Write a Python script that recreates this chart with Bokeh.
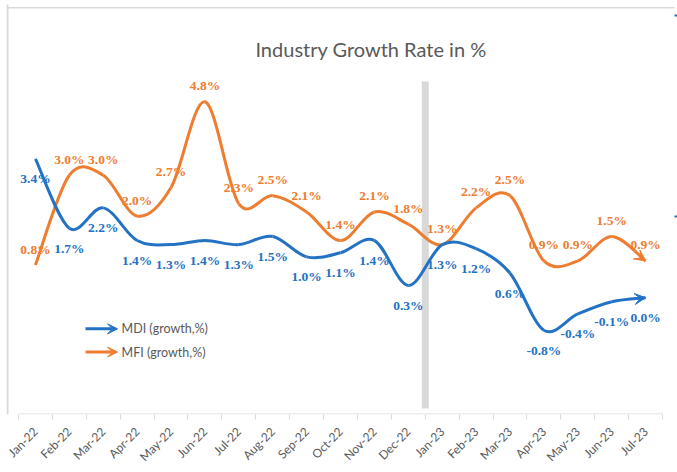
import math
from bokeh.plotting import figure
from bokeh.models import (ColumnDataSource, LabelSet, Label, Arrow, VeeHead, FixedTicker,
                          BoxAnnotation)
from bokeh.embed import file_html
from bokeh.resources import INLINE

months = ["Jan-22", "Feb-22", "Mar-22", "Apr-22", "May-22", "Jun-22", "Jul-22",
          "Aug-22", "Sep-22", "Oct-22", "Nov-22", "Dec-22", "Jan-23", "Feb-23",
          "Mar-23", "Apr-23", "May-23", "Jun-23", "Jul-23"]
mdi = [3.4, 1.7, 2.2, 1.4, 1.3, 1.4, 1.3, 1.5, 1.0, 1.1, 1.4, 0.3,
       1.3, 1.2, 0.6, -0.8, -0.4, -0.1, 0.0]
mfi = [0.8, 3.0, 3.0, 2.0, 2.7, 4.8, 2.3, 2.5, 2.1, 1.4, 2.1, 1.8,
       1.3, 2.2, 2.5, 0.9, 0.9, 1.5, 0.9]
series_names = ["MDI (growth,%)", "MFI (growth,%)"]

BLUE = "#2372C4"
ORANGE = "#EE7D31"
GRAY_TXT = "#595959"
BORDER = "#d9d9d9"
FONT = "Lato"

xs = list(range(len(months)))
n = len(months)

# frame spans the whole chart area so that its border can be drawn inside it
p = figure(width=677, height=472, output_backend="svg", toolbar_location=None,
           x_range=(-0.854, n - 0.5 + 0.44), y_range=(-2.864, 7.185),
           min_border_left=6, min_border_right=0, min_border_top=4,
           min_border_bottom=57)
p.outline_line_color = None
p.xgrid.visible = False
p.ygrid.visible = False
p.yaxis.visible = False

ax = p.xaxis[0]
ax.ticker = FixedTicker(ticks=xs, minor_ticks=[i - 0.5 for i in range(n + 1)])
ax.major_label_overrides = {i: m for i, m in enumerate(months)}
ax.major_label_orientation = math.pi / 4
ax.major_tick_in = 0
ax.major_tick_out = 0
ax.minor_tick_in = 0
ax.minor_tick_out = 5
ax.minor_tick_line_color = BORDER
ax.axis_line_color = None
ax.major_label_text_font = FONT
ax.major_label_text_font_size = "12px"
ax.major_label_text_color = GRAY_TXT
ax.major_label_standoff = 10

# category axis line only across the categories
p.add_layout(BoxAnnotation(left=-0.5, right=n - 0.5, bottom=0, top=1,
                           bottom_units="screen", top_units="screen",
                           fill_color=BORDER, fill_alpha=1, line_alpha=0))


def screen_box(left, right, bottom, top, color):
    p.add_layout(BoxAnnotation(left=left, right=right, bottom=bottom, top=top,
                               left_units="screen", right_units="screen",
                               bottom_units="screen", top_units="screen",
                               fill_color=color, fill_alpha=1, line_alpha=0))

screen_box(0, 2, 0, 420, BORDER)            # left chart border
screen_box(0, 668, 406, 407.5, BORDER)      # top chart border
# slivers of the cut-off secondary axis at the right edge
for yy in (399, 198):
    screen_box(668, 671, yy - 1, yy + 1, BLUE)

# separator bar between Dec-22 and Jan-23
p.segment(x0=[11.5], y0=[-2.72], x1=[11.5], y1=[5.3], line_color=BORDER, line_width=7)


def smooth_segments(ys):
    m = len(ys)
    d = {"x0": [], "y0": [], "x1": [], "y1": [], "cx0": [], "cy0": [], "cx1": [], "cy1": []}
    for i in range(m - 1):
        xm1, ym1 = (i - 1, ys[i - 1]) if i > 0 else (i, ys[i])
        xp2, yp2 = (i + 2, ys[i + 2]) if i + 2 < m else (i + 1, ys[i + 1])
        d["x0"].append(i); d["y0"].append(ys[i])
        d["x1"].append(i + 1); d["y1"].append(ys[i + 1])
        d["cx0"].append(i + (i + 1 - xm1) / 6); d["cy0"].append(ys[i] + (ys[i + 1] - ym1) / 6)
        d["cx1"].append(i + 1 - (xp2 - i) / 6); d["cy1"].append(ys[i + 1] - (yp2 - ys[i]) / 6)
    return d


for ys, col in ((mfi, ORANGE), (mdi, BLUE)):
    seg = smooth_segments(ys)
    p.bezier(x0="x0", y0="y0", x1="x1", y1="y1", cx0="cx0", cy0="cy0", cx1="cx1", cy1="cy1",
             source=ColumnDataSource(seg), line_color=col, line_width=3)
    p.add_layout(Arrow(end=VeeHead(size=11, fill_color=col, line_color=col, line_width=1),
                       x_start=seg["cx1"][-1], y_start=seg["cy1"][-1],
                       x_end=xs[-1], y_end=ys[-1], line_alpha=0))

fmt = lambda v: f"{v:.1f}%"
src_mdi = ColumnDataSource(dict(x=xs, y=mdi, t=[fmt(v) for v in mdi]))
src_mfi = ColumnDataSource(dict(x=xs, y=mfi, t=[fmt(v) for v in mfi]))
p.add_layout(LabelSet(x="x", y="y", text="t", source=src_mdi, y_offset=-20,
                      text_align="center", text_baseline="middle", text_color=BLUE,
                      text_font=FONT, text_font_size="13.5px", text_font_style="bold"))
p.add_layout(LabelSet(x="x", y="y", text="t", source=src_mfi, y_offset=16,
                      text_align="center", text_baseline="middle", text_color=ORANGE,
                      text_font=FONT, text_font_size="13.5px", text_font_style="bold"))

p.add_layout(Label(x=9.9, y=6.1, text="Industry Growth Rate in %", text_align="center",
                   text_baseline="middle", text_font=FONT, text_font_size="20px",
                   text_color=GRAY_TXT))

# legend (arrow keys + labels)
for name, col, ly in ((series_names[0], BLUE, -0.765), (series_names[1], ORANGE, -1.333)):
    p.add_layout(Arrow(end=VeeHead(size=10, fill_color=col, line_color=col, line_width=1),
                       x_start=1.477, y_start=ly, x_end=2.421, y_end=ly,
                       line_color=col, line_width=3))
    p.add_layout(Label(x=2.54, y=ly, text=name, text_align="left", text_baseline="middle",
                       text_font=FONT, text_font_size="12.5px", text_color=GRAY_TXT))

open("out.html", "w").write(file_html(p, INLINE))
